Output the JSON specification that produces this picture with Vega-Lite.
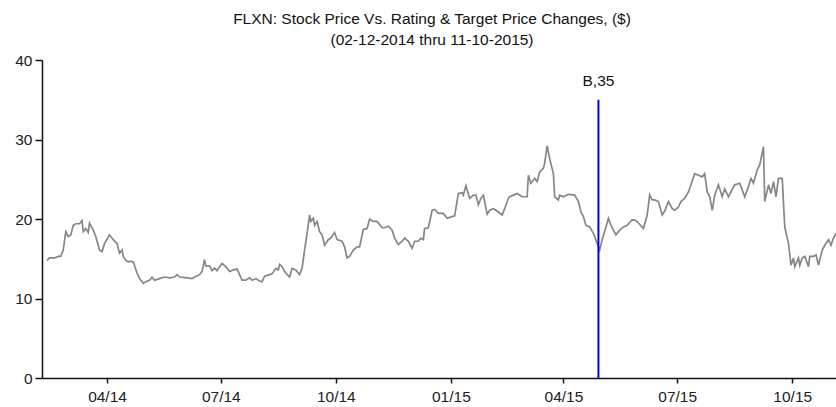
{
  "$schema": "https://vega.github.io/schema/vega-lite/v6.json",
  "autosize": {"type": "none"},
  "width": 794,
  "height": 318,
  "padding": {"left": 42, "top": 60, "right": 0, "bottom": 29},
  "background": "white",
  "title": {
    "text": ["FLXN: Stock Price Vs. Rating & Target Price Changes, ($)", "(02-12-2014 thru 11-10-2015)"],
    "font": "Liberation Sans",
    "fontSize": 15.5,
    "fontWeight": "normal",
    "color": "#111111",
    "anchor": "middle",
    "dx": -7,
    "offset": 5,
    "lineHeight": 21
  },
  "config": {
    "view": {"stroke": null},
    "axis": {
      "labelFont": "Liberation Sans",
      "labelFontSize": 15.5,
      "labelColor": "#222222",
      "domainColor": "#111111",
      "domainWidth": 1.5,
      "tickColor": "#111111",
      "tickWidth": 1.5,
      "grid": false,
      "title": null
    }
  },
  "datasets": {
    "price": [
      {"date":"2014-02-12","price":14.8},{"date":"2014-02-14","price":15.1},{"date":"2014-02-18","price":15.1},{"date":"2014-02-21","price":15.3},{"date":"2014-02-23","price":15.3},{"date":"2014-02-25","price":16.1},{"date":"2014-02-27","price":18.4},{"date":"2014-03-01","price":17.8},{"date":"2014-03-03","price":18.0},{"date":"2014-03-05","price":19.2},{"date":"2014-03-07","price":19.4},{"date":"2014-03-10","price":19.4},{"date":"2014-03-12","price":19.8},{"date":"2014-03-13","price":18.4},{"date":"2014-03-15","price":18.8},{"date":"2014-03-17","price":18.3},{"date":"2014-03-18","price":19.5},{"date":"2014-03-21","price":18.6},{"date":"2014-03-23","price":17.8},{"date":"2014-03-26","price":16.1},{"date":"2014-03-28","price":15.9},{"date":"2014-03-30","price":16.9},{"date":"2014-04-03","price":18.0},{"date":"2014-04-06","price":17.4},{"date":"2014-04-09","price":16.9},{"date":"2014-04-11","price":15.7},{"date":"2014-04-13","price":16.1},{"date":"2014-04-14","price":15.3},{"date":"2014-04-16","price":14.8},{"date":"2014-04-18","price":14.6},{"date":"2014-04-20","price":14.7},{"date":"2014-04-22","price":14.6},{"date":"2014-04-25","price":13.2},{"date":"2014-04-27","price":12.5},{"date":"2014-04-30","price":11.9},{"date":"2014-05-02","price":12.1},{"date":"2014-05-05","price":12.3},{"date":"2014-05-07","price":12.7},{"date":"2014-05-09","price":12.3},{"date":"2014-05-13","price":12.5},{"date":"2014-05-17","price":12.7},{"date":"2014-05-21","price":12.6},{"date":"2014-05-25","price":12.7},{"date":"2014-05-27","price":13.0},{"date":"2014-05-29","price":12.7},{"date":"2014-06-04","price":12.6},{"date":"2014-06-08","price":12.5},{"date":"2014-06-10","price":12.7},{"date":"2014-06-14","price":13.0},{"date":"2014-06-16","price":13.4},{"date":"2014-06-18","price":14.9},{"date":"2014-06-19","price":14.1},{"date":"2014-06-22","price":14.1},{"date":"2014-06-24","price":13.5},{"date":"2014-06-26","price":13.8},{"date":"2014-06-28","price":13.5},{"date":"2014-06-30","price":14.0},{"date":"2014-07-02","price":14.4},{"date":"2014-07-05","price":14.0},{"date":"2014-07-08","price":13.4},{"date":"2014-07-11","price":13.6},{"date":"2014-07-14","price":13.7},{"date":"2014-07-16","price":13.0},{"date":"2014-07-18","price":12.3},{"date":"2014-07-21","price":12.3},{"date":"2014-07-24","price":12.6},{"date":"2014-07-26","price":12.3},{"date":"2014-07-29","price":12.5},{"date":"2014-08-01","price":12.2},{"date":"2014-08-03","price":12.1},{"date":"2014-08-05","price":12.8},{"date":"2014-08-09","price":13.0},{"date":"2014-08-11","price":13.1},{"date":"2014-08-14","price":13.8},{"date":"2014-08-16","price":13.6},{"date":"2014-08-17","price":14.3},{"date":"2014-08-19","price":14.0},{"date":"2014-08-21","price":13.4},{"date":"2014-08-25","price":12.7},{"date":"2014-08-27","price":13.8},{"date":"2014-08-30","price":13.6},{"date":"2014-09-02","price":13.0},{"date":"2014-09-04","price":13.8},{"date":"2014-09-06","price":16.1},{"date":"2014-09-08","price":18.2},{"date":"2014-09-10","price":20.5},{"date":"2014-09-11","price":19.7},{"date":"2014-09-13","price":20.1},{"date":"2014-09-14","price":19.2},{"date":"2014-09-16","price":19.7},{"date":"2014-09-18","price":18.4},{"date":"2014-09-20","price":18.0},{"date":"2014-09-22","price":16.7},{"date":"2014-09-25","price":17.4},{"date":"2014-09-27","price":17.6},{"date":"2014-09-30","price":18.3},{"date":"2014-10-02","price":17.4},{"date":"2014-10-06","price":17.2},{"date":"2014-10-08","price":16.5},{"date":"2014-10-10","price":15.1},{"date":"2014-10-12","price":15.3},{"date":"2014-10-15","price":16.1},{"date":"2014-10-18","price":16.5},{"date":"2014-10-20","price":16.5},{"date":"2014-10-23","price":18.7},{"date":"2014-10-26","price":18.8},{"date":"2014-10-28","price":20.0},{"date":"2014-10-31","price":19.7},{"date":"2014-11-03","price":19.7},{"date":"2014-11-07","price":18.9},{"date":"2014-11-09","price":18.9},{"date":"2014-11-12","price":19.1},{"date":"2014-11-15","price":18.6},{"date":"2014-11-17","price":17.6},{"date":"2014-11-20","price":16.8},{"date":"2014-11-23","price":17.2},{"date":"2014-11-25","price":17.6},{"date":"2014-11-28","price":17.2},{"date":"2014-12-01","price":16.3},{"date":"2014-12-03","price":17.2},{"date":"2014-12-06","price":17.2},{"date":"2014-12-08","price":17.6},{"date":"2014-12-10","price":17.4},{"date":"2014-12-11","price":18.8},{"date":"2014-12-14","price":18.9},{"date":"2014-12-17","price":21.1},{"date":"2014-12-19","price":21.2},{"date":"2014-12-22","price":20.7},{"date":"2014-12-26","price":20.7},{"date":"2014-12-29","price":20.1},{"date":"2014-12-31","price":20.2},{"date":"2015-01-04","price":20.4},{"date":"2015-01-07","price":23.2},{"date":"2015-01-10","price":23.3},{"date":"2015-01-11","price":23.0},{"date":"2015-01-13","price":24.2},{"date":"2015-01-16","price":22.6},{"date":"2015-01-19","price":23.0},{"date":"2015-01-21","price":23.0},{"date":"2015-01-23","price":21.8},{"date":"2015-01-25","price":22.6},{"date":"2015-01-27","price":23.0},{"date":"2015-01-30","price":20.6},{"date":"2015-02-01","price":21.1},{"date":"2015-02-04","price":21.3},{"date":"2015-02-07","price":21.0},{"date":"2015-02-11","price":20.5},{"date":"2015-02-13","price":21.3},{"date":"2015-02-16","price":22.6},{"date":"2015-02-17","price":22.8},{"date":"2015-02-20","price":23.0},{"date":"2015-02-23","price":23.2},{"date":"2015-02-27","price":22.8},{"date":"2015-03-03","price":22.8},{"date":"2015-03-04","price":25.5},{"date":"2015-03-06","price":24.5},{"date":"2015-03-09","price":25.1},{"date":"2015-03-11","price":24.7},{"date":"2015-03-13","price":25.9},{"date":"2015-03-16","price":26.4},{"date":"2015-03-17","price":27.0},{"date":"2015-03-19","price":29.2},{"date":"2015-03-21","price":27.6},{"date":"2015-03-24","price":25.7},{"date":"2015-03-25","price":22.8},{"date":"2015-03-28","price":22.4},{"date":"2015-03-29","price":23.0},{"date":"2015-04-01","price":22.8},{"date":"2015-04-05","price":23.1},{"date":"2015-04-10","price":23.0},{"date":"2015-04-13","price":22.2},{"date":"2015-04-15","price":20.9},{"date":"2015-04-17","price":20.3},{"date":"2015-04-19","price":19.2},{"date":"2015-04-22","price":19.0},{"date":"2015-04-25","price":18.2},{"date":"2015-04-28","price":16.9},{"date":"2015-04-30","price":16.1},{"date":"2015-05-02","price":17.4},{"date":"2015-05-05","price":19.0},{"date":"2015-05-07","price":20.1},{"date":"2015-05-09","price":19.2},{"date":"2015-05-11","price":18.6},{"date":"2015-05-13","price":18.0},{"date":"2015-05-16","price":18.6},{"date":"2015-05-19","price":19.0},{"date":"2015-05-22","price":19.2},{"date":"2015-05-26","price":19.9},{"date":"2015-05-29","price":19.8},{"date":"2015-05-31","price":19.5},{"date":"2015-06-04","price":18.8},{"date":"2015-06-07","price":20.5},{"date":"2015-06-09","price":23.0},{"date":"2015-06-11","price":22.4},{"date":"2015-06-13","price":22.4},{"date":"2015-06-16","price":22.2},{"date":"2015-06-19","price":20.5},{"date":"2015-06-21","price":21.0},{"date":"2015-06-24","price":22.2},{"date":"2015-06-27","price":21.3},{"date":"2015-06-29","price":21.1},{"date":"2015-07-02","price":21.5},{"date":"2015-07-04","price":22.2},{"date":"2015-07-07","price":22.6},{"date":"2015-07-10","price":23.4},{"date":"2015-07-12","price":24.3},{"date":"2015-07-15","price":25.7},{"date":"2015-07-18","price":25.5},{"date":"2015-07-21","price":25.3},{"date":"2015-07-23","price":25.7},{"date":"2015-07-25","price":23.4},{"date":"2015-07-27","price":22.8},{"date":"2015-07-29","price":21.1},{"date":"2015-07-31","price":23.0},{"date":"2015-08-03","price":24.3},{"date":"2015-08-06","price":22.8},{"date":"2015-08-08","price":23.8},{"date":"2015-08-11","price":22.8},{"date":"2015-08-13","price":23.4},{"date":"2015-08-16","price":24.3},{"date":"2015-08-20","price":24.5},{"date":"2015-08-24","price":22.8},{"date":"2015-08-27","price":24.1},{"date":"2015-08-29","price":25.1},{"date":"2015-08-31","price":24.5},{"date":"2015-09-03","price":26.2},{"date":"2015-09-05","price":26.8},{"date":"2015-09-08","price":29.1},{"date":"2015-09-09","price":22.2},{"date":"2015-09-12","price":24.3},{"date":"2015-09-14","price":23.2},{"date":"2015-09-16","price":24.7},{"date":"2015-09-18","price":22.8},{"date":"2015-09-20","price":25.1},{"date":"2015-09-23","price":25.1},{"date":"2015-09-25","price":19.0},{"date":"2015-09-28","price":16.9},{"date":"2015-09-30","price":14.2},{"date":"2015-10-02","price":15.1},{"date":"2015-10-03","price":14.0},{"date":"2015-10-06","price":15.1},{"date":"2015-10-07","price":14.2},{"date":"2015-10-09","price":15.1},{"date":"2015-10-11","price":15.3},{"date":"2015-10-14","price":14.0},{"date":"2015-10-15","price":15.3},{"date":"2015-10-18","price":15.3},{"date":"2015-10-20","price":15.5},{"date":"2015-10-22","price":14.2},{"date":"2015-10-25","price":16.1},{"date":"2015-10-27","price":16.7},{"date":"2015-10-30","price":17.4},{"date":"2015-11-01","price":16.7},{"date":"2015-11-03","price":17.6},{"date":"2015-11-05","price":18.2}
    ],
    "events": [
      {"date":"2015-04-29","low":0,"high":35,"label":"B,35"}
    ]
  },
  "encoding": {
    "x": {
      "field": "date",
      "type": "temporal",
      "scale": {
        "type": "utc",
        "domain": [{"year":2014,"month":2,"date":8,"utc":true},{"year":2015,"month":11,"date":5,"utc":true}]
      },
      "axis": {
        "values": [
          {"year":2014,"month":4,"date":1,"utc":true},
          {"year":2014,"month":7,"date":1,"utc":true},
          {"year":2014,"month":10,"date":1,"utc":true},
          {"year":2015,"month":1,"date":1,"utc":true},
          {"year":2015,"month":4,"date":1,"utc":true},
          {"year":2015,"month":7,"date":1,"utc":true},
          {"year":2015,"month":10,"date":1,"utc":true}
        ],
        "format": "%m/%y",
        "tickSize": 5,
        "labelPadding": 6,
        "labelFlush": false,
        "labelOverlap": false
      }
    }
  },
  "layer": [
    {
      "data": {"name": "price"},
      "mark": {"type": "line", "color": "#868686", "strokeWidth": 1.7, "clip": true},
      "encoding": {
        "y": {
          "field": "price",
          "type": "quantitative",
          "scale": {"domain": [0, 40], "nice": false, "zero": true},
          "axis": {"values": [0, 10, 20, 30, 40], "tickSize": 7, "labelPadding": 3}
        }
      }
    },
    {
      "data": {"name": "events"},
      "mark": {"type": "rule", "color": "#0000ff", "strokeWidth": 2},
      "encoding": {
        "y": {"field": "low", "type": "quantitative"},
        "y2": {"field": "high"}
      }
    },
    {
      "data": {"name": "events"},
      "mark": {"type": "text", "font": "Liberation Sans", "fontSize": 15.5, "color": "#111111", "dy": -19, "dx": 0},
      "encoding": {
        "y": {"field": "high", "type": "quantitative"},
        "text": {"field": "label"}
      }
    }
  ]
}
